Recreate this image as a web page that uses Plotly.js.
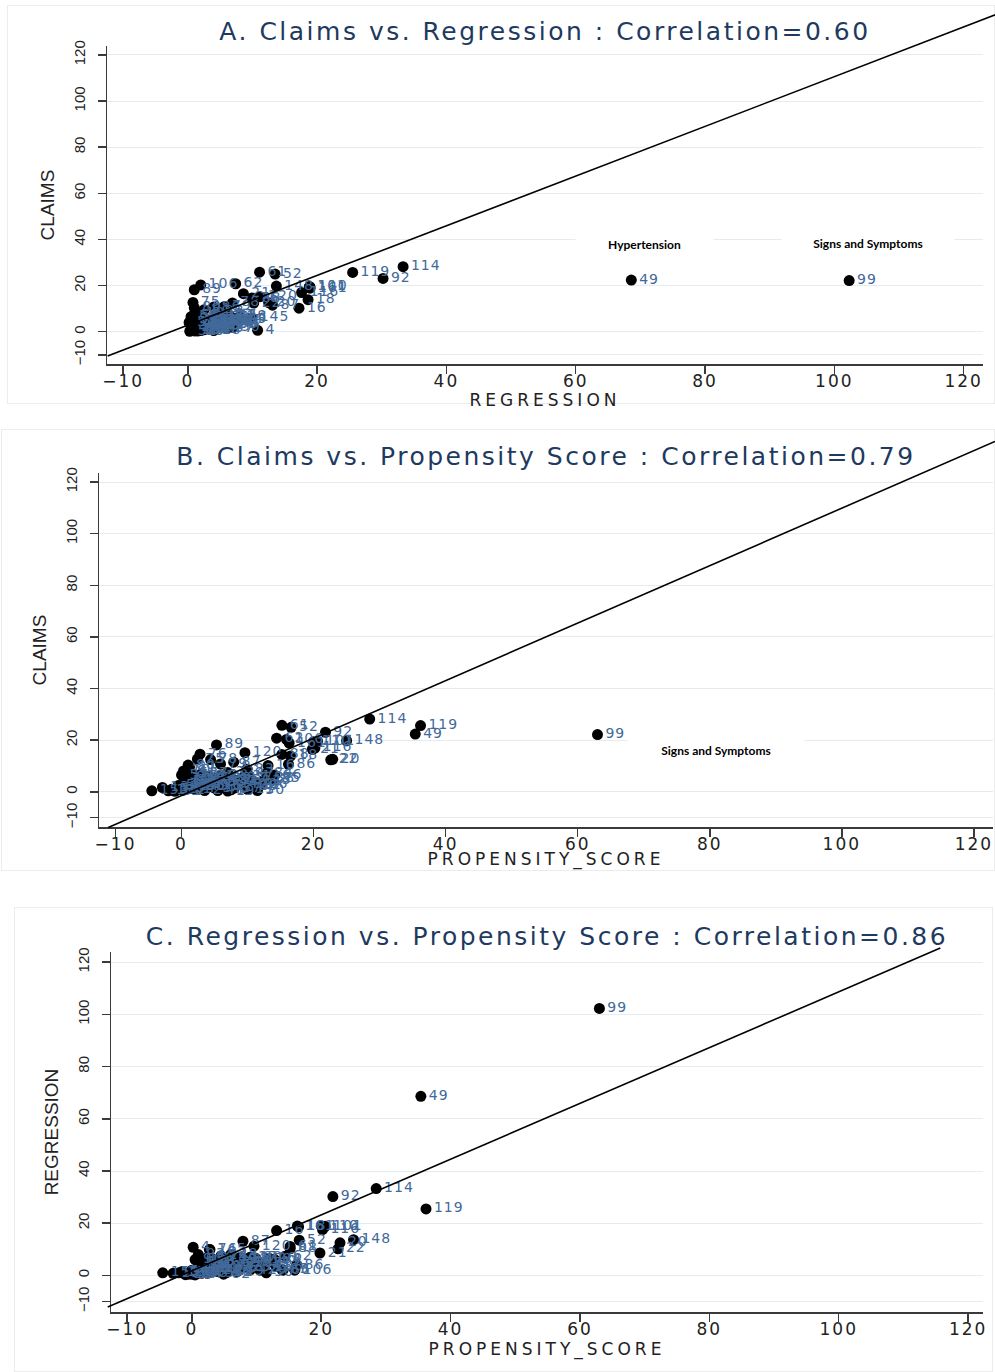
<!DOCTYPE html>
<html><head><meta charset="utf-8">
<script src="https://cdn.plot.ly/plotly-3.0.1.min.js"></script>
<style>
html,body{margin:0;padding:0;background:#fff;width:995px;height:1372px;overflow:hidden;}
.panel{position:absolute;}
.frame{position:absolute;border:1px solid #ececec;box-sizing:border-box;}
.gtitle{letter-spacing:2.5px;}
.xtitle{letter-spacing:4px;}
.xtick text{letter-spacing:2px;}
.textpoint text{letter-spacing:1px;}
</style></head><body>
<div class="frame" style="left:7px;top:5px;width:988px;height:399px"></div>
<div class="frame" style="left:1px;top:429px;width:994px;height:442px"></div>
<div class="frame" style="left:14px;top:907px;width:979px;height:465px"></div>
<div id="pA" class="panel" style="left:0;top:0;width:995px;height:410px"></div>
<div id="pB" class="panel" style="left:0;top:430px;width:995px;height:440px"></div>
<div id="pC" class="panel" style="left:0;top:905px;width:995px;height:467px"></div>
<script>
// ---- data ----
const obsId = [99,49,114,119,92,61,52,62,106,89,148,16,18,110,116,101,161,20,22,21,87,120,4,10,145,66,86,
  153,137,131,63,71,75,76,78,79,80,81,82,83,84,85,88,90,91,93,94,51,53,54,55,56,57,
  1,2,3,5,6,7,8,9,11,12,13,14,15,17,19,23,24,25,26,27,28,29,30,31,32,33,34,35,36,37,38,39,40,41,42,43,44,45,46,47,48,50];
const propensity = [63.0,35.4,28.5,36.2,21.8,15.2,16.6,14.4,15.9,5.3,25.0,13.1,16.5,20.0,20.2,20.6,16.3,22.9,22.6,19.8,7.9,9.6,0.2,0.3,2.7,14.1,16.2,
  -4.5,-2.9,-2.0,0.9,2.1,2.4,2.8,4.4,5.9,1.0,1.2,4.9,9.9,12.8,13.9,15.2,9.8,4.6,1.0,0.5,-1.0,-0.5,0.5,1.5,-1.5,0.0,
  2.0,3.5,5.0,6.5,7.5,3.0,4.0,8.5,10.0,11.0,6.0,1.5,2.5,9.0,7.0,5.5,4.5,8.0,12.0,3.0,6.0,10.5,11.5,9.5,7.0,11.0,1.0,2.0,5.0,8.0,13.0,6.5,3.5,4.0,9.0,12.5,7.5,0.0,1.5,10.0,5.5,2.5];
const regression = [102.3,68.6,33.3,25.5,30.2,11.1,13.5,7.4,2.0,1.0,13.7,17.2,18.6,18.9,17.6,18.8,18.9,12.5,10.2,8.6,13.1,11.2,10.8,1.5,9.9,2.0,4.0,
  1.0,0.8,1.0,6.1,3.6,0.8,9.9,6.9,5.6,1.0,2.5,0.5,4.5,6.1,2.3,10.2,6.7,2.3,8.0,6.1,0.3,0.5,0.2,0.8,1.5,0.5,
  1.5,2.0,3.0,4.0,2.5,4.5,5.5,5.0,3.5,4.5,6.0,3.0,5.0,7.0,1.5,2.0,7.5,3.0,6.5,6.5,8.0,2.0,1.0,5.5,4.5,2.5,4.0,2.5,1.0,6.0,3.5,5.0,3.5,1.5,2.0,5.0,7.0,2.0,5.5,6.0,4.0,7.0];
const claims = [22.2,22.4,28.2,25.7,23.1,25.8,25.0,20.8,20.3,18.2,19.8,10.2,13.9,19.4,17.0,19.6,18.9,12.6,12.4,16.5,11.5,15.2,0.6,8.1,6.0,6.5,10.7,
  0.4,1.7,0.4,4.3,4.9,12.7,14.6,12.5,10.8,10.4,9.5,5.2,8.8,7.0,5.0,14.5,3.0,2.0,5.5,3.0,0.2,2.5,4.0,7.0,1.0,6.5,
  1.0,0.5,1.5,2.0,0.8,3.0,2.5,3.5,1.0,2.5,4.0,2.0,6.0,5.0,0.3,3.5,5.5,4.5,3.0,7.0,6.5,2.0,0.5,6.0,7.5,4.0,1.5,3.0,2.5,1.5,5.0,5.0,4.0,6.0,3.0,4.5,3.5,2.5,4.5,7.0,0.5,2.0];
const tickValues = [-10,0,20,40,60,80,100,120];
const titles = ['A. Claims vs. Regression : Correlation=0.60',
                'B. Claims vs. Propensity Score : Correlation=0.79',
                'C. Regression vs. Propensity Score : Correlation=0.86'];
// diagonal reference line end points (data units) per panel
const diagA = {x:[-12.4,124.9], y:[-10.5,137.4]};
const diagB = {x:[-11.1,123.2], y:[-13.8,135.7]};
const diagC = {x:[-13.0,115.7], y:[-12.1,125.4]};

const labelsTxt = obsId.map(String);
function dom(v, r){ return (v - r[0]) / (r[1] - r[0]); }

function panel(div, cfg){
  const trace = {
    type:'scatter', mode:'markers+text', x:cfg.x, y:cfg.y, text:labelsTxt,
    textposition:'middle right',
    textfont:{family:'DejaVu Sans', size:14, color:'#41699a'},
    marker:{color:'#000', size:11, line:{width:0}},
    cliponaxis:false, hoverinfo:'none'
  };
  const ax = {
    showline:true, linecolor:'#3a3a3a', linewidth:1.5, ticks:'outside', ticklen:8,
    tickcolor:'#3a3a3a', tickwidth:1.5, zeroline:false, tickvals:tickValues, automargin:false
  };
  const layout = {
    width:995, height:cfg.h, margin:cfg.m,
    paper_bgcolor:'rgba(0,0,0,0)', plot_bgcolor:'rgba(0,0,0,0)', showlegend:false,
    title:{text:cfg.title, font:{family:'DejaVu Sans', size:25, color:'#1e3a5f'},
           x:0.5, xref:'paper', xanchor:'center', y:cfg.ty, yref:'container', yanchor:'middle'},
    xaxis:Object.assign({}, ax, {range:cfg.xr, showgrid:false, ticklabelstandoff:-7,
      tickfont:{family:'DejaVu Sans', size:17, color:'#222'},
      title:{text:cfg.xt, font:{family:'DejaVu Sans', size:17, color:'#222'}, standoff:0}}),
    yaxis:Object.assign({}, ax, {range:cfg.yr, showgrid:true, gridcolor:'#e3edef', gridwidth:1,
      tickangle:-90, ticklabelstandoff:7,
      tickfont:{family:'Liberation Sans Narrow, Liberation Sans', size:15, color:'#222'},
      title:{text:cfg.yt, font:{family:'Liberation Sans Narrow, Liberation Sans', size:19, color:'#222'}, standoff:11}}),
    shapes:[{type:'line', xref:'x domain', yref:'y domain',
      x0:dom(cfg.d.x[0], cfg.xr), x1:dom(cfg.d.x[1], cfg.xr),
      y0:dom(cfg.d.y[0], cfg.yr), y1:dom(cfg.d.y[1], cfg.yr),
      line:{color:'#000', width:1.6}}],
    annotations:cfg.ann || []
  };
  Plotly.newPlot(div, [trace], layout, {displayModeBar:false, staticPlot:true});
}
const annFont = {family:'Lato, Open Sans', size:12, color:'#000', weight:'bold'};
panel('pA', {x:regression, y:claims, h:410, m:{l:107,r:12,t:46,b:46},
  xr:[-12.5,123.0], yr:[-14.0,123.9], ty:0.924, title:titles[0], xt:'REGRESSION', yt:'CLAIMS', d:diagA,
  ann:[{x:70.7, y:38.0, xref:'x', yref:'y', text:'Hypertension', showarrow:false, bgcolor:'#fff', width:135, height:24, font:annFont},
       {x:105.2, y:38.3, xref:'x', yref:'y', text:'Signs and Symptoms', showarrow:false, bgcolor:'#fff', width:170, height:24, font:annFont}]});
panel('pB', {x:propensity, y:claims, h:440, m:{l:99,r:2,t:43,b:43},
  xr:[-12.5,122.9], yr:[-13.6,123.5], ty:0.941, title:titles[1], xt:'PROPENSITY_SCORE', yt:'CLAIMS', d:diagB,
  ann:[{x:81.0, y:16.2, xref:'x', yref:'y', text:'Signs and Symptoms', showarrow:false, bgcolor:'#fff', width:174, height:28, font:annFont}]});
panel('pC', {x:propensity, y:regression, h:467, m:{l:111,r:12,t:47,b:60},
  xr:[-12.5,122.3], yr:[-14.0,123.9], ty:0.934, title:titles[2], xt:'PROPENSITY_SCORE', yt:'REGRESSION', d:diagC});
</script>
</body></html>
